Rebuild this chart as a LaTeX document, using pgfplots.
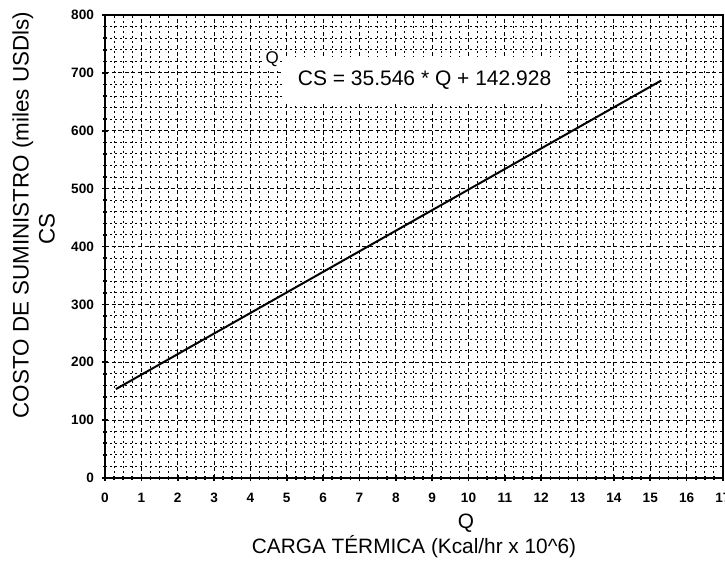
\documentclass[border=0pt]{standalone}
\usepackage{fontspec}
\setmainfont{Liberation Sans}
\usepackage{pgfplots}
\pgfplotsset{compat=1.18}

\begin{document}
\begin{tikzpicture}
% page = reference frame (axis box 309pt x 231.5pt, 17 label cut at right)
\useasboundingbox (-52.5pt,-42.5pt) rectangle (310pt,239pt);
\begin{axis}[
    scale only axis,
    width=309pt, height=231.5pt,
    xmin=0, xmax=17, ymin=0, ymax=800,
    xtick={0,1,...,17},
    ytick={0,100,...,800},
    minor x tick num=3,
    minor y tick num=4,
    xtick pos=left, ytick pos=left,
    tick align=center,
    major tick length=3pt, minor tick length=2pt,
    tick style={black, line width=0.8pt},
    axis line style={line width=1pt},
    grid=both,
    major grid style={black, line width=0.55pt, dash pattern=on 2pt off 1.3pt},
    minor grid style={black, line width=0.5pt, dash pattern=on 1.2pt off 1.3pt},
    /pgf/number format/assume math mode=true,
    ticklabel style={font=\fontsize{6.8}{7}\selectfont\bfseries},
    xticklabel style={yshift=-2.5pt},
    yticklabel style={xshift=-0.5pt},
    xlabel={CARGA TÉRMICA (Kcal/hr x 10\textasciicircum 6)},
    xlabel style={font=\fontsize{10.4}{12}\selectfont, at={(axis description cs:0.5,0)}, anchor=north, yshift=-25pt},
    ylabel={COSTO DE SUMINISTRO (miles USDls)},
    ylabel style={font=\fontsize{11.2}{13}\selectfont, at={(axis description cs:-0.133,0.568)}, anchor=center, rotate=0},
    clip=false,
]
\addplot[black, line width=1pt] coordinates {(0.3,153.59) (15.3,686.78)};

\node[fill=white, inner xsep=8pt, inner ysep=7pt, font=\fontsize{10.5}{12}\selectfont] at (axis cs:8.79,687) {CS = 35.546 * Q + 142.928};
\node[font=\fontsize{8.5}{9}\selectfont, inner sep=0.5pt, fill=white] at (axis cs:4.6,723) {Q};

\node[font=\fontsize{10.4}{12}\selectfont] at (axis description cs:0.584,-0.097) {Q};
\node[font=\fontsize{11.2}{13}\selectfont, rotate=90] at (axis description cs:-0.094,0.538) {CS};
\end{axis}
\end{tikzpicture}
\end{document}
